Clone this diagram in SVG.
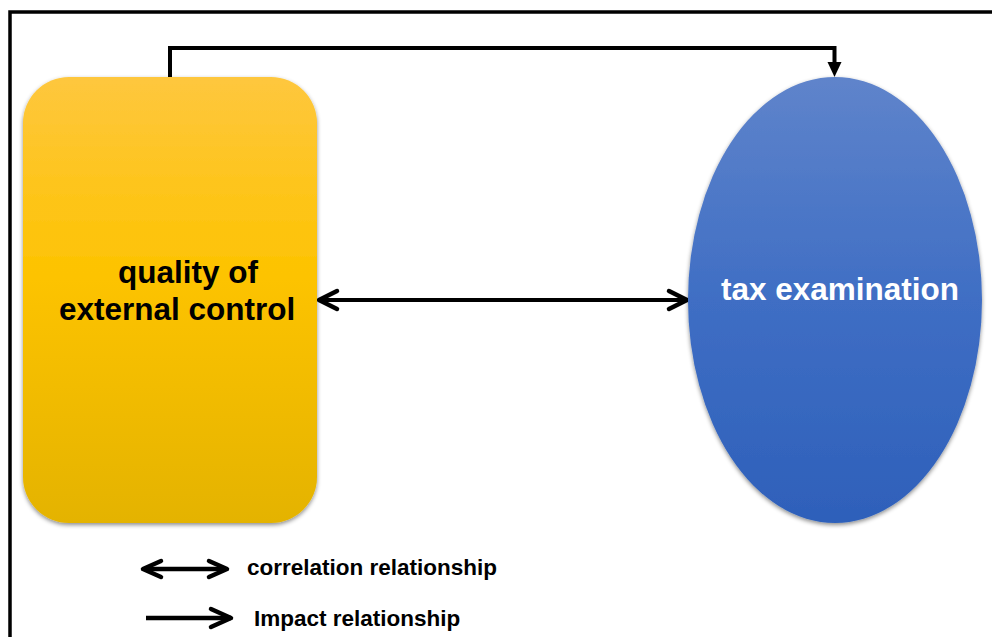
<svg xmlns="http://www.w3.org/2000/svg" width="992" height="637" viewBox="0 0 992 637">
  <style>
    .lbl { font-family: "Liberation Sans", Arial, sans-serif; font-weight: bold; }
    .node-text { font-size: 31.5px; }
    .legend-text { font-size: 22.5px; fill: #000; }
    .wire { fill: none; stroke: #000; stroke-width: 4; }
    .head { fill: none; stroke: #000; stroke-width: 4.5; stroke-linecap: round; stroke-linejoin: round; }
  </style>
  <defs>
    <linearGradient id="gYellow" x1="0" y1="0" x2="0" y2="1">
      <stop offset="0" stop-color="#FEC73E"/>
      <stop offset="0.45" stop-color="#FDC300"/>
      <stop offset="1" stop-color="#E4B300"/>
    </linearGradient>
    <linearGradient id="gBlue" x1="0" y1="0" x2="0" y2="1">
      <stop offset="0" stop-color="#5F84CB"/>
      <stop offset="0.5" stop-color="#3F6EC4"/>
      <stop offset="1" stop-color="#2E60BA"/>
    </linearGradient>
    <filter id="shadow" x="-10%" y="-10%" width="120%" height="120%">
      <feDropShadow dx="0" dy="2" stdDeviation="2" flood-color="#000" flood-opacity="0.45"/>
    </filter>
  </defs>

  <rect width="992" height="637" fill="#fff"/>
  <!-- frame -->
  <path d="M10,637 V12 H992" fill="none" stroke="#000" stroke-width="3.5"/>

  <g id="connectors">
    <path class="wire" d="M170,78 V48 H834.5 V63"/>
    <polygon points="827.5,62 841.5,62 834.5,77" fill="#000"/>
    <line class="wire" x1="320" y1="300" x2="686" y2="300"/>
    <path class="head" d="M337,291 L319,300 L337,309"/>
    <path class="head" d="M669,291 L687,300 L669,309"/>
  </g>

  <g id="node-quality">
    <rect x="23" y="77" width="294" height="446" rx="46" ry="46" fill="url(#gYellow)" filter="url(#shadow)"/>
    <text class="lbl node-text" x="118" y="283" fill="#000">quality of</text>
    <text class="lbl node-text" x="59" y="320" fill="#000">external control</text>
  </g>

  <g id="node-tax">
    <ellipse cx="835" cy="300" rx="147" ry="223" fill="url(#gBlue)" filter="url(#shadow)"/>
    <text class="lbl node-text" x="721" y="300" fill="#fff">tax examination</text>
  </g>

  <g id="legend">
    <line class="wire" x1="144" y1="569" x2="226" y2="569" style="stroke-width:4.5"/>
    <path class="head" d="M161,561 L143,569 L161,577"/>
    <path class="head" d="M209,561 L227,569 L209,577"/>
    <text class="lbl legend-text" x="247" y="575">correlation relationship</text>
    <line class="wire" x1="146" y1="618" x2="231" y2="618" style="stroke-width:4.5"/>
    <path class="head" d="M211,609 L231,618 L211,627"/>
    <text class="lbl legend-text" x="254" y="626">Impact relationship</text>
  </g>
</svg>
